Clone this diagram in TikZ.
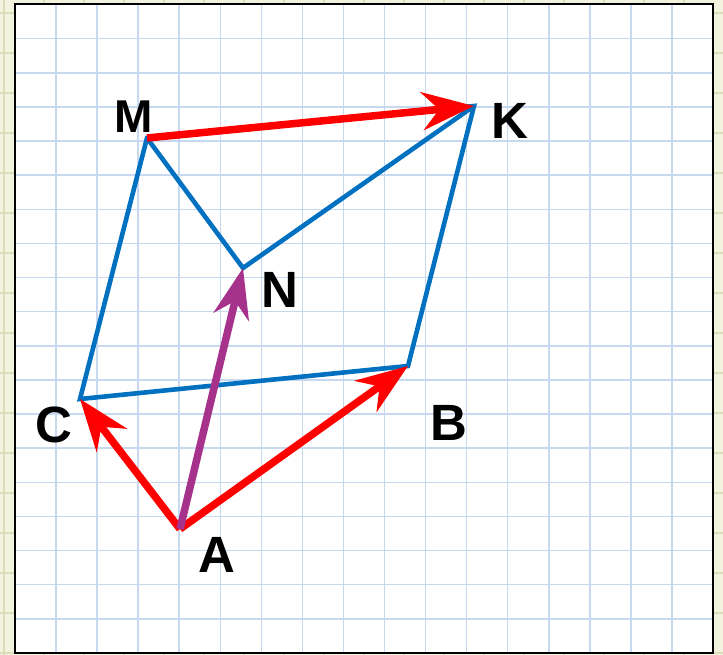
\documentclass[tikz,border=0pt]{standalone}
\usepackage{fontspec}
\setmainfont{Liberation Sans}
\usetikzlibrary{arrows.meta}
\definecolor{gridblue}{RGB}{198,217,241}
\definecolor{vecblue}{RGB}{0,112,192}
\definecolor{vecred}{RGB}{255,0,0}
\definecolor{vecpurple}{RGB}{166,50,140}
\definecolor{paper}{RGB}{242,243,222}
\definecolor{papergrid}{RGB}{218,222,184}
\tikzset{
  side/.style={vecblue, line width=4.6pt, line join=miter},
  redvec/.style={vecred, line width=7.5pt, -{Stealth[length=52pt,width=38pt,inset=17pt]}},
  purplevec/.style={vecpurple, line width=7.5pt, -{Stealth[length=50pt,width=36pt,inset=16pt]}},
  lbl/.style={inner sep=0pt, font=\bfseries\fontsize{46}{46}\selectfont},
  lblbig/.style={inner sep=0pt, font=\bfseries\fontsize{51}{51}\selectfont},
}
\begin{document}
\begin{tikzpicture}[x=1pt,y=-1pt]
\useasboundingbox (0,0) rectangle (723,655);
% paper margin
\fill[paper] (0,0) rectangle (723,655);
\foreach \x in {4,44,...,724} \draw[papergrid, line width=2pt] (\x,0) -- (\x,655);
\foreach \y in {13,53,...,655} \draw[papergrid, line width=2pt] (0,\y) -- (723,\y);
% grid sheet
\fill[white] (15,4.5) rectangle (713,653);
\foreach \k in {1,...,16} \draw[gridblue, line width=1.5pt] ({15+41.06*\k},4.5) -- ({15+41.06*\k},653);
\foreach \k in {1,...,18} \draw[gridblue, line width=1.5pt] (15,{4.5+34.13*\k}) -- (713,{4.5+34.13*\k});
\draw[black, line width=2pt] (15,4.5) rectangle (713,653);
% points
\coordinate (M) at (147,138);
\coordinate (K) at (474,106);
\coordinate (N) at (243,268);
\coordinate (C) at (80,399);
\coordinate (B) at (408,366);
\coordinate (A) at (180,529);
% blue sides
\draw[side] (K) -- (M) -- (C) -- (B) -- cycle;
\draw[side] (M) -- (N) -- (K);
% vectors
\draw[redvec] (M) -- (K);
\draw[redvec] (A) -- (C);
\draw[redvec] (A) -- (B);
\draw[purplevec] (A) -- (N);
% labels
\node[lbl] (lM) at (133.5,117) {M};
\node[lblbig] (lK) at (510,121) {K};
\node[lblbig] (lN) at (280,290) {N};
\node[lblbig] (lC) at (54,425) {C};
\node[lblbig] (lB) at (449,423) {B};
\node[lblbig] (lA) at (216.5,555) {A};
\end{tikzpicture}
\end{document}
